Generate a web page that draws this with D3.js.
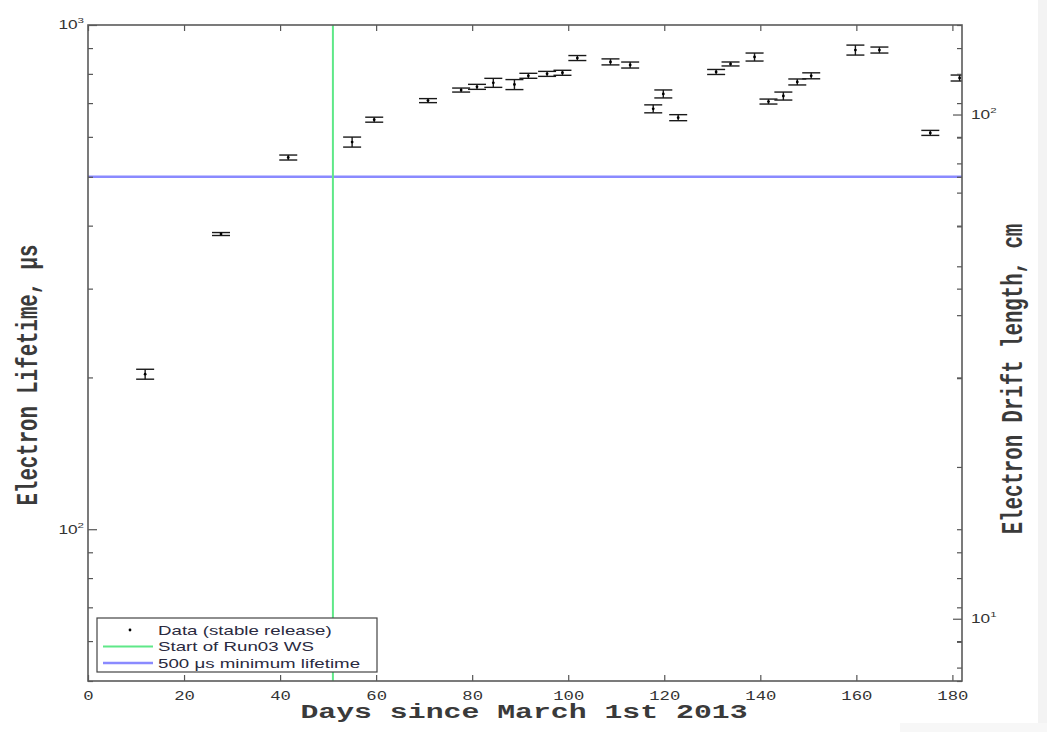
<!DOCTYPE html>
<html>
<head>
<meta charset="utf-8">
<script src="https://cdn.jsdelivr.net/npm/d3@7"></script>
<style>
  html, body { margin: 0; padding: 0; background: #fff; }
  svg { display: block; }
</style>
</head>
<body>
<div id="chart"></div>
<script>
// ---- data ----
const days = [11.9, 27.7, 41.7, 55.0, 59.6, 70.8, 77.7, 81.0, 84.4, 88.8, 91.7, 95.6, 98.8, 101.9, 108.8,
              112.9, 117.7, 119.8, 122.9, 130.8, 133.8, 138.8, 141.7, 144.8, 147.7, 150.6, 159.8, 164.8, 175.4, 181.5];
const lifetime = [203, 385, 546, 586, 649, 708, 743, 754, 768, 762, 793, 800, 804, 860, 845,
                  833, 682, 730, 655, 807, 837, 864, 705, 723, 771, 793, 892, 892, 611, 785];
const lifetimeErr = [4.6, 2.6, 6.2, 13.4, 7.4, 6.5, 6.8, 8.6, 15.8, 17.4, 9.0, 9.1, 9.2, 9.8, 11.6,
                     11.4, 12.4, 13.3, 9.0, 9.2, 7.6, 15.8, 8.0, 13.2, 10.5, 10.8, 20.3, 12.2, 7.0, 10.7];
const run03Start = 51;          // days
const minLifetime = 500;        // μs
const driftVelocity = 0.1505;   // cm per μs (right axis = lifetime × velocity)
const xTicks = [0, 20, 40, 60, 80, 100, 120, 140, 160, 180];
const xDomain = [0, 182];
const yDomain = [50, 1000];
const yLeftTicks = [50, 60, 70, 80, 90, 100, 200, 300, 400, 500, 600, 700, 800, 900, 1000];
const yLeftLabels = {100: "2", 1000: "3"};
const yRightTicks = [8, 9, 10, 20, 30, 40, 50, 60, 70, 80, 90, 100];
const yRightLabels = {10: "1", 100: "2"};
const legendItems = ["Data (stable release)", "Start of Run03 WS", "500 \u03bcs minimum lifetime"];
const xTitle = "Days since March 1st 2013";
const yLeftTitle = "Electron Lifetime, \u03bcs";
const yRightTitle = "Electron Drift length, cm";

// ---- layout ----
const W = 1047, H = 732;
const L = 88, R = 962, T = 25, B = 681;
const SX = 1.44; // horizontal stretch of the original picture
const mono = "'Liberation Mono', 'DejaVu Sans Mono', monospace";
const sans = "'Liberation Sans', Arial, sans-serif";

const svg = d3.select("#chart").append("svg").attr("width", W).attr("height", H);
svg.append("rect").attr("width", W).attr("height", H).attr("fill", "#fff");
svg.append("rect").attr("x", 1038).attr("y", 0).attr("width", W - 1038).attr("height", H).attr("fill", "#f3f3f3");
svg.append("rect").attr("x", 900).attr("y", 723).attr("width", W - 900).attr("height", H - 723).attr("fill", "#f7f7f7");

const x = d3.scaleLinear().domain(xDomain).range([L, R]);
const y = d3.scaleLog().domain(yDomain).range([B, T]);
const y2 = d3.scaleLog().domain(yDomain.map(v => v * driftVelocity)).range([B, T]);

svg.append("defs").append("clipPath").attr("id", "plotclip")
  .append("rect").attr("x", L).attr("y", T).attr("width", R - L).attr("height", B - T);

const plot = svg.append("g").attr("clip-path", "url(#plotclip)");

// reference lines
plot.append("line")
  .attr("x1", L).attr("x2", R).attr("y1", y(minLifetime)).attr("y2", y(minLifetime))
  .attr("stroke", "#8a8aff").attr("stroke-width", 2.6);
plot.append("line")
  .attr("x1", x(run03Start)).attr("x2", x(run03Start)).attr("y1", T).attr("y2", B)
  .attr("stroke", "#5fe888").attr("stroke-width", 2);

// data with error bars
const cap = 9;
const pts = plot.append("g").selectAll("g").data(days.map((d, i) => ({d, v: lifetime[i], e: lifetimeErr[i]})))
  .join("g").attr("stroke", "#1a1a1a").attr("stroke-width", 1.4);
pts.append("line").attr("x1", p => x(p.d)).attr("x2", p => x(p.d))
  .attr("y1", p => y(p.v - p.e)).attr("y2", p => y(p.v + p.e));
pts.append("line").attr("x1", p => x(p.d) - cap).attr("x2", p => x(p.d) + cap)
  .attr("y1", p => y(p.v - p.e)).attr("y2", p => y(p.v - p.e));
pts.append("line").attr("x1", p => x(p.d) - cap).attr("x2", p => x(p.d) + cap)
  .attr("y1", p => y(p.v + p.e)).attr("y2", p => y(p.v + p.e));
pts.append("circle").attr("cx", p => x(p.d)).attr("cy", p => y(p.v)).attr("r", 1.4)
  .attr("fill", "#000").attr("stroke", "none");

// ---- axes ----
function styleAxis(g) {
  g.select(".domain").remove();
  g.selectAll(".tick line").attr("stroke", "#555").attr("stroke-width", 1.2);
}
// bottom
const gx = svg.append("g").attr("transform", `translate(0,${B})`)
  .call(d3.axisBottom(x).tickValues(xTicks).tickSizeInner(-6).tickSizeOuter(0).tickPadding(10).tickFormat(d3.format("d")));
styleAxis(gx);
gx.selectAll(".tick text").attr("font-family", mono).attr("font-size", 12).attr("fill", "#333")
  .attr("transform", `scale(${SX},1)`);
// top (mirror ticks)
const gxt = svg.append("g").attr("transform", `translate(0,${T})`)
  .call(d3.axisTop(x).tickValues(xTicks).tickSizeInner(-6).tickSizeOuter(0).tickFormat(""));
styleAxis(gxt);

// left
function supLabels(g, labels, anchor, dx) {
  g.selectAll(".tick text").each(function(d) {
    const t = d3.select(this);
    t.text(null);
    if (labels[d] === undefined) return;
    t.attr("font-family", sans).attr("font-size", 12).attr("fill", "#333")
      .attr("text-anchor", anchor).attr("x", dx / SX).attr("transform", `scale(${SX},1)`);
    t.append("tspan").text("10");
    t.append("tspan").attr("font-size", 8).attr("dy", -6).text(labels[d]);
  });
}
const gy = svg.append("g").attr("transform", `translate(${L},0)`)
  .call(d3.axisLeft(y).tickValues(yLeftTicks).tickSizeOuter(0).tickSize(-5));
styleAxis(gy);
gy.selectAll(".tick").filter(d => d === 100 || d === 1000).select("line").attr("x2", 9);
supLabels(gy, yLeftLabels, "end", -4);

// left ticks mirrored on the right side
const gym = svg.append("g").attr("transform", `translate(${R},0)`)
  .call(d3.axisRight(y).tickValues(yLeftTicks).tickSizeOuter(0).tickSize(-5).tickFormat(""));
styleAxis(gym);

// right axis (drift length)
const gy2 = svg.append("g").attr("transform", `translate(${R},0)`)
  .call(d3.axisRight(y2).tickValues(yRightTicks).tickSizeOuter(0).tickSize(-5));
styleAxis(gy2);
gy2.selectAll(".tick").filter(d => d === 10 || d === 100).select("line").attr("x2", -9);
supLabels(gy2, yRightLabels, "start", 9);

// frame
svg.append("rect").attr("x", L).attr("y", T).attr("width", R - L).attr("height", B - T)
  .attr("fill", "none").attr("stroke", "#5a5a5a").attr("stroke-width", 1.6);

// ---- titles ----
svg.append("text").attr("transform", `translate(524,718) scale(${SX},1)`)
  .attr("text-anchor", "middle").attr("font-family", mono).attr("font-size", 20.7).attr("font-weight", "bold")
  .attr("fill", "#3a3a3a").text(xTitle);
svg.append("text").attr("transform", `translate(37,375) scale(${SX},1) rotate(-90)`)
  .attr("text-anchor", "middle").attr("font-family", mono).attr("font-size", 20.7).attr("font-weight", "bold")
  .attr("fill", "#3a3a3a").text(yLeftTitle);
svg.append("text").attr("transform", `translate(1022,379) scale(${SX},1) rotate(-90)`)
  .attr("text-anchor", "middle").attr("font-family", mono).attr("font-size", 20.7).attr("font-weight", "bold")
  .attr("fill", "#3a3a3a").text(yRightTitle);

// ---- legend ----
const lg = svg.append("g");
lg.append("rect").attr("x", 97).attr("y", 618).attr("width", 280).attr("height", 54)
  .attr("fill", "#fff").attr("stroke", "#444").attr("stroke-width", 1.2);
const rowY = [630, 646.5, 663];
lg.append("circle").attr("cx", 130).attr("cy", rowY[0]).attr("r", 1.4).attr("fill", "#000");
lg.append("line").attr("x1", 103).attr("x2", 153).attr("y1", rowY[1]).attr("y2", rowY[1])
  .attr("stroke", "#5fe888").attr("stroke-width", 2);
lg.append("line").attr("x1", 103).attr("x2", 153).attr("y1", rowY[2]).attr("y2", rowY[2])
  .attr("stroke", "#8a8aff").attr("stroke-width", 2.6);
lg.selectAll("text.leg").data(legendItems).join("text").attr("class", "leg")
  .attr("transform", (d, i) => `translate(158,${rowY[i] + 4.5}) scale(${SX},1)`)
  .attr("font-family", sans).attr("font-size", 13).attr("fill", "#2a2a40").text(d => d);
</script>
</body>
</html>
